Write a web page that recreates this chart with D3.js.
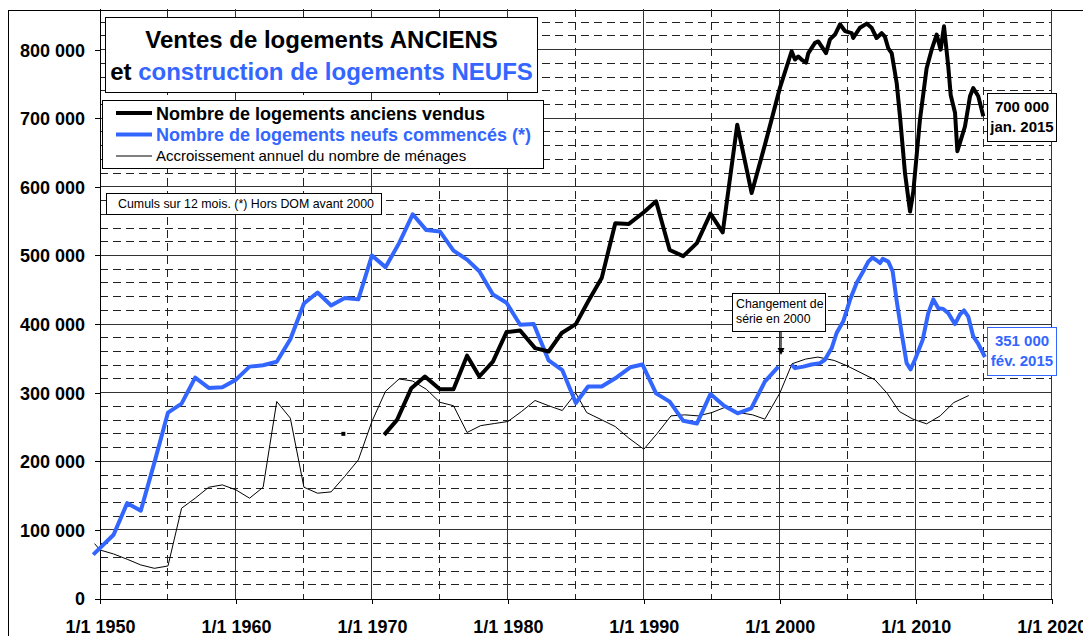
<!DOCTYPE html>
<html>
<head>
<meta charset="utf-8">
<script src="https://cdn.jsdelivr.net/npm/d3@7"></script>
<style>
  body { margin: 0; background: #fff; }
  svg { font-family: "Liberation Sans", Arial, sans-serif; }
</style>
</head>
<body>
<svg id="chart" width="1083" height="636"></svg>
<script>
// logements anciens vendus (cumul 12 mois), null = trou dans la serie
const anciensDates = [1967.9, 1969,
  1970.9, 1971.85, 1972.9, 1973.9, 1975.0, 1976.0, 1977.0, 1977.9, 1978.9, 1979.9,
  1980.9, 1982.0, 1983.0, 1983.96, 1985.0, 1985.9, 1986.9, 1987.9, 1988.9, 1990.0,
  1990.9, 1991.9, 1992.9, 1993.9, 1994.9, 1995.8, 1996.87, 1997.93, 1998.91, 2000.01,
  2000.87, 2001.12, 2001.36, 2001.6, 2001.93, 2002.1, 2002.59, 2002.83, 2003.4, 2003.69,
  2004.06, 2004.43, 2004.8, 2005.29, 2005.4, 2005.9, 2006.39, 2006.75, 2007.12, 2007.49,
  2007.73, 2007.98, 2008.23, 2008.6, 2008.84, 2009.21, 2009.58, 2009.82, 2010.31, 2010.8,
  2011.17, 2011.54, 2011.83, 2012.08, 2012.39, 2012.57, 2012.89, 2013.06, 2013.25, 2013.62,
  2013.99, 2014.23, 2014.6, 2014.97]
const anciensValeurs = [240000, null,
  238500, 260400, 306600, 323600, 305000, 305000, 354000, 323600, 345400, 388300,
  390700, 365000, 360000, 387000, 400000, 433000, 467000, 547000, 546000, 563000,
  579000, 508000, 499000, 518000, 561000, 533600, 690700, 591100, 661600, 744300,
  797700, 785600, 790000, 785600, 781000, 795000, 810000, 812000, 795000, 815000,
  822000, 837000, 827000, 824000, 817000, 832000, 838000, 832000, 817000, 824000,
  819000, 802000, 795000, 751000, 703000, 620000, 564000, 593000, 698000, 773000,
  800000, 822000, 800000, 834000, 776000, 734000, 708000, 652000, 664000, 688000,
  732000, 744000, 732000, 703000]

// logements neufs commences
const neufsDates = [1949.5, 1951, 1952, 1953, 1954, 1955, 1956, 1957, 1958, 1959,
  1960, 1961, 1962, 1963, 1964, 1965, 1966, 1967, 1968, 1969,
  1970, 1971, 1972, 1973, 1974, 1975, 1976, 1977, 1977.9, 1978.9,
  1979.9, 1980.9, 1981.9, 1983, 1984, 1985, 1985.9, 1986.9, 1987.9, 1989,
  1989.9, 1990.9, 1991.9, 1992.9, 1993.9, 1994.9, 1995.9, 1996.9, 1997.9, 1998.9,
  1999.9, 2000.4,
  2000.87, 2001.12, 2001.73, 2002.34, 2002.96, 2003.32, 2003.82, 2004.18, 2004.67, 2005.16,
  2005.65, 2006.14, 2006.51, 2006.83, 2007.12, 2007.37, 2007.57, 2007.98, 2008.3, 2008.59,
  2008.96, 2009.33, 2009.62, 2009.94, 2010.51, 2010.92, 2011.29, 2011.66, 2012.02, 2012.39,
  2012.88, 2013.25, 2013.55, 2013.86, 2014.23, 2014.6, 2015.09]
const neufsValeurs = [64000, 93000, 139000, 128000, 198000, 271000, 284000, 322000, 307000, 308000,
  319000, 338000, 340000, 345000, 378000, 430000, 446000, 427000, 438000, 436000,
  500000, 483000, 518000, 560000, 537000, 535000, 507000, 494000, 477000, 443000,
  431000, 399000, 400000, 347000, 333000, 285000, 309000, 309000, 321000, 337000,
  341000, 299000, 287000, 259000, 255000, 298000, 281000, 270000, 277000, 316000,
  338000, null,
  340600, 335800, 338000, 341000, 343000, 348000, 365000, 387000, 404000, 435000,
  460000, 477000, 491000, 497000, 493000, 489000, 495000, 491000, 477000, 435000,
  387000, 343000, 334000, 348000, 377000, 416000, 436000, 423000, 422000, 416000,
  400000, 414000, 420000, 411000, 382000, 371000, 352000]

// accroissement annuel du nombre de menages
const menagesDates = [1949.6, 1950, 1951, 1952, 1953, 1954, 1955, 1956, 1957, 1958, 1959,
  1960, 1961, 1962, 1963, 1964, 1965, 1966, 1967, 1968, 1969,
  1970, 1971, 1972, 1973, 1974, 1975, 1976, 1977, 1978, 1979,
  1980, 1981, 1982, 1983, 1984, 1985, 1985.8, 1986.9, 1987.9, 1988.9,
  1990, 1991, 1992, 1993, 1994, 1995, 1996, 1997, 1998, 1998.9,
  2000, 2000.9, 2001.9, 2002.8, 2004, 2004.9, 2007, 2007.9, 2008.8, 2009.8,
  2010.8, 2011.8, 2012.8, 2013.9]
const menagesValeurs = [80000, 70700, 64900, 57200, 48900, 44000, 47400, 131600, 146200, 162200, 165600,
  158300, 146200, 162200, 287100, 262900, 162200, 153500, 155400, 178000, 202000,
  258000, 302000, 320000, 317000, 305000, 286000, 281000, 242000, 252000, 255000,
  258000, 272500, 288600, 281000, 274000, 299300, 271000, 260400, 250600, 233700,
  217600, 241000, 266200, 267700, 266200, 271000, 278900, 271000, 267700, 261400,
  299300, 342100, 349000, 351900, 347000, 339600, 318800, 299000, 272500, 261400,
  254600, 266200, 285600, 295900]

const yTicks = [0, 100000, 200000, 300000, 400000, 500000, 600000, 700000, 800000]
const xTicks = [1950, 1960, 1970, 1980, 1990, 2000, 2010, 2020]

const bleu = "#3366ff"

let scales = {
  x: d3.scaleLinear().domain([1950, 2020]).range([100, 1051.7]),
  y: d3.scaleLinear().domain([0, 860000]).range([598.5, 8.5])
}

let fr = d3.formatLocale({decimal: ",", thousands: " ", grouping: [3], currency: ["", ""]})
let numberFormat = fr.format(",")

function zip(dates, values) {
  return dates.map((t, i) => ({t: t, v: values[i]}))
}

let svg = d3.select("#chart")

// cadre du graphique
svg.append("rect")
  .attr("x", 8.5).attr("y", 10.5)
  .attr("width", 1100).attr("height", 700)
  .attr("fill", "#fff").attr("stroke", "#000")

function draw_grid() {
  let g = svg.append("g").attr("shape-rendering", "crispEdges")
  let minorY = d3.range(20000, 860000, 20000).filter(v => v % 100000 != 0)
  g.selectAll(".hmin").data(minorY).enter()
    .append("line")
    .attr("x1", 100).attr("x2", 1051.7)
    .attr("y1", d => scales.y(d)).attr("y2", d => scales.y(d))
    .attr("stroke", "#222").attr("stroke-dasharray", "8,5")
  let minorX = d3.range(1955, 2020, 10)
  g.selectAll(".vmin").data(minorX).enter()
    .append("line")
    .attr("x1", d => scales.x(d)).attr("x2", d => scales.x(d))
    .attr("y1", scales.y(860000)).attr("y2", scales.y(0))
    .attr("stroke", "#222").attr("stroke-dasharray", "8,5")
  g.selectAll(".hmaj").data(yTicks.filter(v => v > 0)).enter()
    .append("line")
    .attr("x1", 100).attr("x2", 1051.7)
    .attr("y1", d => scales.y(d)).attr("y2", d => scales.y(d))
    .attr("stroke", "#333")
  g.selectAll(".vmaj").data(xTicks.filter(v => v > 1950)).enter()
    .append("line")
    .attr("x1", d => scales.x(d)).attr("x2", d => scales.x(d))
    .attr("y1", scales.y(860000)).attr("y2", scales.y(0))
    .attr("stroke", "#333")
}

function draw_axes() {
  let y_axis = d3.axisLeft(scales.y)
    .tickValues(yTicks)
    .tickFormat(numberFormat)
    .tickSize(5).tickSizeOuter(0)
  let gy = svg.append("g")
    .attr("transform", "translate(100, 0)")
    .call(y_axis)
  gy.selectAll("text")
    .attr("x", -15).attr("dy", "0.36em")
    .attr("font-size", 18).attr("font-weight", "bold")
    .attr("font-family", "Liberation Sans, Arial, sans-serif")
    .attr("fill", "#000")

  let x_axis = d3.axisBottom(scales.x)
    .tickValues(xTicks)
    .tickFormat(d => "1/1 " + d)
    .tickSize(5).tickSizeOuter(0)
  let gx = svg.append("g")
    .attr("transform", `translate(0, ${scales.y(0)})`)
    .call(x_axis)
  gx.selectAll("text")
    .attr("y", 34.5).attr("dy", 0)
    .attr("font-size", 18).attr("font-weight", "bold")
    .attr("font-family", "Liberation Sans, Arial, sans-serif")
    .attr("fill", "#000")
  svg.selectAll(".domain, .tick line").attr("stroke", "#000").attr("shape-rendering", "crispEdges")
}

function draw_series(data, color, w) {
  let line_generator = d3.line()
    .defined(d => d.v != null)
    .x(d => scales.x(d.t))
    .y(d => scales.y(d.v))
  svg.append("path")
    .datum(data)
    .attr("d", line_generator)
    .attr("fill", "none")
    .attr("stroke", color)
    .attr("stroke-width", w)
    .attr("stroke-linejoin", "round")

  // points isoles (sans voisin defini)
  let seuls = data.filter((d, i) => d.v != null &&
    (i == 0 || data[i - 1].v == null) && (i == data.length - 1 || data[i + 1].v == null))
  svg.selectAll(null).data(seuls).enter()
    .append("rect")
    .attr("x", d => scales.x(d.t) - 2).attr("y", d => scales.y(d.v) - 2)
    .attr("width", 4).attr("height", 4)
    .attr("fill", color)
}

function draw_boxes() {
  // titre
  svg.append("rect")
    .attr("x", 105.5).attr("y", 17.5).attr("width", 432).attr("height", 75)
    .attr("fill", "#fff").attr("stroke", "#000")
  svg.append("text")
    .attr("x", 321.5).attr("y", 48).attr("text-anchor", "middle")
    .attr("font-size", 24).attr("font-weight", "bold")
    .text("Ventes de logements ANCIENS")
  let t2 = svg.append("text")
    .attr("x", 321.5).attr("y", 80).attr("text-anchor", "middle")
    .attr("font-size", 24).attr("font-weight", "bold")
  t2.append("tspan").attr("fill", "#000").text("et ")
  t2.append("tspan").attr("fill", bleu).text("construction de logements NEUFS")

  // legende
  svg.append("rect")
    .attr("x", 102.5).attr("y", 100.5).attr("width", 441).attr("height", 68)
    .attr("fill", "#fff").attr("stroke", "#000")
  let legende = [
    {label: "Nombre de logements anciens vendus", color: "#000", w: 4, size: 18, bold: true, y: 113, base: 119.5},
    {label: "Nombre de logements neufs commencés (*)", color: bleu, w: 4, size: 18, bold: true, y: 134.5, base: 141},
    {label: "Accroissement annuel du nombre de ménages", color: "#000", w: 1, size: 15, bold: false, y: 156, base: 161}
  ]
  legende.forEach(d => {
    svg.append("line")
      .attr("x1", 116).attr("x2", 152).attr("y1", d.y).attr("y2", d.y)
      .attr("stroke", d.color).attr("stroke-width", d.w)
    svg.append("text")
      .attr("x", 156).attr("y", d.base)
      .attr("font-size", d.size).attr("font-weight", d.bold ? "bold" : "normal")
      .attr("fill", d.color)
      .text(d.label)
  })

  // note
  svg.append("rect")
    .attr("x", 106.5).attr("y", 193.5).attr("width", 275).attr("height", 21)
    .attr("fill", "#fff").attr("stroke", "#000")
  svg.append("text")
    .attr("x", 118).attr("y", 208)
    .attr("font-size", 12.2)
    .attr("textLength", 256).attr("lengthAdjust", "spacingAndGlyphs")
    .text("Cumuls sur 12 mois.  (*) Hors DOM avant 2000")

  // changement de serie
  svg.append("rect")
    .attr("x", 732.5).attr("y", 293.5).attr("width", 93).attr("height", 38)
    .attr("fill", "#fff").attr("stroke", "#000")
  svg.append("text")
    .attr("x", 736).attr("y", 307.5).attr("font-size", 12.3)
    .text("Changement de")
  svg.append("text")
    .attr("x", 736).attr("y", 323).attr("font-size", 12.3)
    .text("série en 2000")
  svg.append("line")
    .attr("x1", 781).attr("x2", 781).attr("y1", 332).attr("y2", 350)
    .attr("stroke", "#000").attr("stroke-width", 1.2)
  svg.append("path")
    .attr("d", "M777.5,348 L784.5,348 L781,355 Z")
    .attr("fill", "#000")

  // etiquettes de fin
  let fins = [
    {l1: "700 000", l2: "jan. 2015", color: "#000", y: 93.5},
    {l1: "351 000", l2: "fév. 2015", color: bleu, y: 327.5}
  ]
  fins.forEach(d => {
    svg.append("rect")
      .attr("x", 987.5).attr("y", d.y).attr("width", 69).attr("height", 48)
      .attr("fill", "#fff").attr("stroke", d.color)
    svg.append("text")
      .attr("x", 1022).attr("y", d.y + 18.5).attr("text-anchor", "middle")
      .attr("font-size", 15).attr("font-weight", "bold").attr("fill", d.color)
      .text(d.l1)
    svg.append("text")
      .attr("x", 1022).attr("y", d.y + 38.5).attr("text-anchor", "middle")
      .attr("font-size", 15).attr("font-weight", "bold").attr("fill", d.color)
      .text(d.l2)
  })
}

draw_grid()
draw_axes()
draw_series(zip(menagesDates, menagesValeurs), "#000", 1)
draw_series(zip(neufsDates, neufsValeurs), bleu, 4)
draw_series(zip(anciensDates, anciensValeurs), "#000", 4)
draw_boxes()
</script>
</body>
</html>
